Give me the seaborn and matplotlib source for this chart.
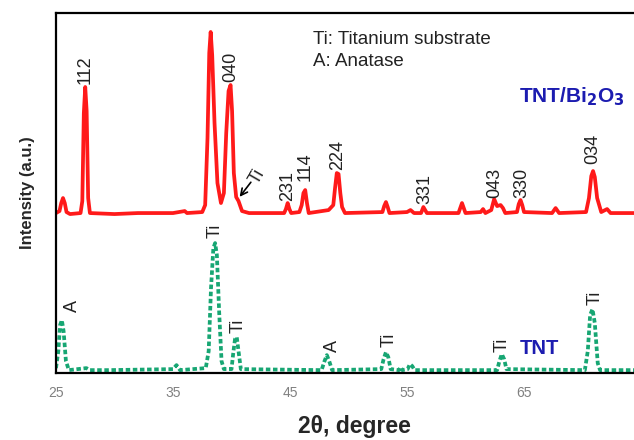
import numpy as np
import pandas as pd
import seaborn as sns
import matplotlib
matplotlib.use("Agg")
import matplotlib.pyplot as plt

# ---- data (2theta in degrees, intensity in arbitrary units) ----
red_x = [25.0, 25.3, 25.45, 25.6, 25.75, 25.9, 26.2, 27.1, 27.25, 27.38, 27.5, 27.62, 27.75,
         27.9, 30.0, 32.0, 35.0, 36.0, 36.2, 37.5, 37.75, 37.95, 38.1, 38.22, 38.35, 38.55,
         38.8, 39.1, 39.35, 39.55, 39.75, 39.92, 40.05, 40.2, 40.4, 40.6, 40.9, 41.5, 44.5,
         44.65, 44.8, 44.95, 45.1, 45.8, 46.0, 46.15, 46.3, 46.45, 46.6, 48.3, 48.7, 48.85,
         49.0, 49.15, 49.3, 49.45, 49.7, 52.9, 53.05, 53.2, 53.35, 53.5, 55.0, 55.3, 55.6,
         56.2, 56.4, 56.7, 59.4, 59.55, 59.7, 59.85, 60.0, 61.3, 61.5, 61.7, 62.2, 62.45,
         62.7, 63.0, 63.2, 63.4, 64.4, 64.55, 64.7, 64.85, 65.0, 67.4, 67.7, 68.0, 70.3,
         70.55, 70.75, 70.9, 71.05, 71.25, 71.6, 72.1, 72.4, 74.5]
red_y = [160, 162, 170, 175, 170, 161, 159, 160, 172, 260, 286, 262, 175,
         160, 159, 160, 160, 162, 160, 161, 168, 235, 320, 341, 318, 250,
         190, 170, 180, 240, 282, 288, 262, 200, 176, 172, 162, 160, 160,
         164, 170, 164, 160, 161, 168, 180, 183, 170, 160, 163, 168, 185,
         200, 199, 180, 166, 160, 161, 167, 171, 166, 160, 161, 163, 160,
         160, 166, 160, 160, 165, 170, 165, 160, 161, 164, 160, 163, 174,
         167, 168, 165, 160, 161, 169, 173, 168, 161, 160, 165, 160, 161,
         175, 197, 202, 196, 175, 161, 164, 160, 160]

green_x = [25.0, 25.2, 25.35, 25.5, 25.65, 25.85, 26.1, 27.6, 27.9, 29.5, 35.0, 35.3, 35.6,
           37.8, 38.05, 38.25, 38.45, 38.6, 38.75, 38.95, 39.15, 39.35, 40.0, 40.15, 40.3,
           40.45, 40.6, 40.8, 47.7, 47.95, 48.15, 48.35, 48.6, 52.8, 53.0, 53.2, 53.4, 53.6,
           54.3, 54.45, 54.6, 55.05, 55.25, 55.45, 55.65, 62.7, 62.9, 63.1, 63.3, 63.5, 70.2,
           70.45, 70.65, 70.85, 71.05, 71.3, 71.5, 74.5]
green_y = [5, 22, 48, 53, 42, 12, 3, 5, 3, 3, 4, 8, 3,
           5, 22, 85, 125, 130, 118, 60, 12, 4, 4, 20, 34,
           36, 22, 4, 3, 12, 18, 12, 3, 4, 14, 21, 16, 4,
           3, 6, 3, 4, 9, 7, 3, 3, 12, 19, 14, 4, 3,
           22, 58, 64, 50, 10, 3, 3]

# peak labels
red_lbl = ["112", "040", "231", "114", "224", "331", "043", "330", "034"]
red_lbl_x = [27.5, 39.95, 44.8, 46.3, 49.1, 56.5, 62.5, 64.8, 70.9]
red_lbl_y = [289, 291, 172, 192, 203, 169, 175, 175, 209]
green_lbl = ["A", "Ti", "Ti", "A", "Ti", "Ti", "Ti"]
green_lbl_x = [26.4, 38.6, 40.6, 48.6, 53.5, 63.1, 71.1]
green_lbl_y = [61, 135, 40, 21, 26, 21, 68]
xticks = [25, 35, 45, 55, 65]

df = pd.concat([
    pd.DataFrame({"two_theta": red_x, "intensity": red_y, "sample": "TNT/Bi2O3"}),
    pd.DataFrame({"two_theta": green_x, "intensity": green_y, "sample": "TNT"}),
])

sns.set_theme(style="white")
plt.rcParams["font.family"] = ["Liberation Sans", "DejaVu Sans"]

fig = plt.figure(figsize=(6.34, 4.40), dpi=100)
ax = fig.add_axes([0.0883, 0.152, 0.9117, 0.8185])

sns.lineplot(data=df, x="two_theta", y="intensity", hue="sample", style="sample",
             palette={"TNT/Bi2O3": "#ff1a1a", "TNT": "#17a673"},
             dashes={"TNT/Bi2O3": "", "TNT": (1.2, 0.7)},
             sort=False, estimator=None, linewidth=2.7, legend=False, ax=ax)

ax.set_xlim(25, 74.4)
ax.set_ylim(0, 360)
ax.set_xticks(xticks)
ax.set_xticklabels([str(t) for t in xticks], color="#808080", fontsize=10)
ax.set_yticks([])
ax.tick_params(axis="x", direction="out", length=3, width=1.2, color="black", pad=6)
for s in ["left", "top", "bottom"]:
    ax.spines[s].set_color("black")
    ax.spines[s].set_linewidth(1.6)
ax.spines["right"].set_visible(False)

ax.set_xlabel("2θ, degree", fontsize=16.5, fontweight="bold", va="center")
ax.xaxis.set_label_coords(0.517, -0.147)
ax.set_ylabel("Intensity (a.u.)", fontsize=12, fontweight="bold", va="center")
ax.yaxis.set_label_coords(-0.05, 0.5)

for t, x, y in zip(red_lbl, red_lbl_x, red_lbl_y):
    ax.text(x, y, t, rotation=90, ha="center", va="bottom", fontsize=13, color="#222222")
for t, x, y in zip(green_lbl, green_lbl_x, green_lbl_y):
    ax.text(x, y, t, rotation=90, ha="center", va="bottom", fontsize=13, color="#222222")

ax.annotate("", xy=(40.55, 174), xytext=(41.8, 193),
            arrowprops=dict(arrowstyle="->", color="black", lw=1.2))
ax.text(42.2, 186, "Ti", rotation=60, ha="center", va="bottom", fontsize=13, color="#222222")

ax.text(47.0, 333, "Ti: Titanium substrate", fontsize=13.5, color="#222222", va="center")
ax.text(47.0, 311, "A: Anatase", fontsize=13.5, color="#222222", va="center")
ax.text(64.6, 276, r"TNT/Bi$_\mathbf{2}$O$_\mathbf{3}$", fontsize=15, fontweight="bold",
        color="#1c1cb0", va="center")
ax.text(64.6, 25, "TNT", fontsize=14.5, fontweight="bold", color="#1c1cb0", va="center")

fig.savefig("out.png", dpi=100)
